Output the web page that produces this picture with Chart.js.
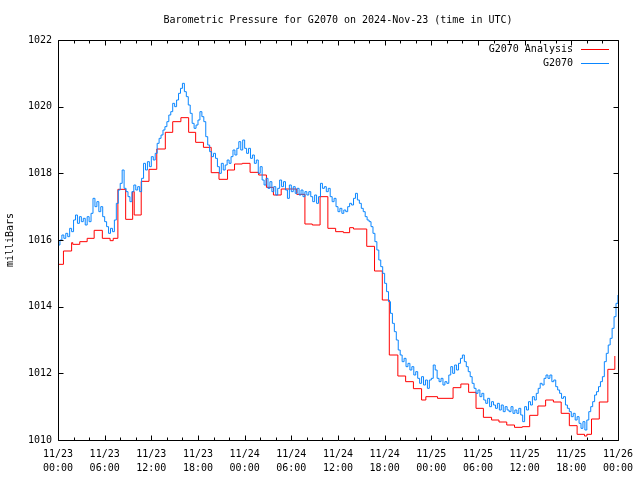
<!DOCTYPE html>
<html>
<head>
<meta charset="utf-8">
<script src="https://cdn.jsdelivr.net/npm/chart.js@4.4.1/dist/chart.umd.min.js"></script>
<style>
  html, body { margin: 0; padding: 0; background: #fff; }
  canvas { display: block; }
</style>
</head>
<body>
<canvas id="pressureChart" width="640" height="480"></canvas>
<script>
const chartTitle = "Barometric Pressure for G2070 on 2024-Nov-23 (time in UTC)";
const yTitle = "milliBars";
const seriesNames = ["G2070 Analysis", "G2070"];
const seriesColors = ["#ff0000", "#0a86ff"];

// x tick labels, one per 6 hours (hours since 11/23 00:00 UTC)
const labelHours = [0, 6, 12, 18, 24, 30, 36, 42, 48, 54, 60, 66, 72];
const labelDays = ["11/23", "11/23", "11/23", "11/23", "11/24", "11/24", "11/24", "11/24", "11/25", "11/25", "11/25", "11/25", "11/26"];
const labelTimes = ["00:00", "06:00", "12:00", "18:00", "00:00", "06:00", "12:00", "18:00", "00:00", "06:00", "12:00", "18:00", "00:00"];

// G2070 Analysis (hourly steps), hours and mBar
const analysisHours = [0, 0.7, 1.75, 1.9, 2.8, 3.75, 4.65, 5.7, 6.7, 7.1, 7.7, 8.7, 9.6, 9.8, 10.7, 11.7,
  12.7, 13.8, 14.75, 15.8, 16.8, 17.7, 18.7, 19.7, 20.7, 21.8, 22.7, 23.7,
  24.7, 25.8, 26.8, 27.7, 28.7, 29.7, 30.7, 31.75, 32.7, 33.7, 34.7, 35.7,
  36.7, 37.5, 38.0, 39.7, 40.7, 41.7, 42.6, 43.7, 44.7, 45.7, 46.75, 47.3,
  48.8, 50.8, 51.8, 52.8, 53.75, 54.7, 55.75, 56.7, 57.7, 58.7, 59.7,
  60.65, 61.7, 62.7, 63.7, 64.7, 65.75, 66.75, 67.7, 68.0, 68.6, 69.6, 70.7, 71.6];
const analysisValues = [1015.27, 1015.67, 1015.92, 1015.87, 1015.95, 1016.05, 1016.29, 1016.05, 1015.98, 1016.05, 1017.52, 1016.62, 1017.45, 1016.75, 1017.76, 1018.12,
  1018.73, 1019.23, 1019.55, 1019.67, 1019.23, 1018.93, 1018.78, 1018.02, 1017.82, 1018.1, 1018.28, 1018.3,
  1018.03, 1017.95, 1017.58, 1017.35, 1017.53, 1017.53, 1017.37, 1016.48, 1016.45, 1017.3, 1016.35, 1016.25,
  1016.22, 1016.37, 1016.33, 1015.81, 1015.07, 1014.2, 1012.55, 1011.92, 1011.75, 1011.54, 1011.2, 1011.3,
  1011.25, 1011.57, 1011.68, 1011.43, 1010.95, 1010.68, 1010.6, 1010.54, 1010.45, 1010.38, 1010.4,
  1010.74, 1011.02, 1011.2, 1011.14, 1010.8, 1010.43, 1010.17, 1010.12, 1010.17, 1010.63, 1011.14, 1012.12, 1012.52];

// G2070 station readings, every 15 minutes from 11/23 00:00
const stationStepHours = 0.25;
const stationValues = [
  1015.85, 1016.0, 1016.15, 1016.05, 1016.2, 1016.1, 1016.35, 1016.25, 1016.6, 1016.75, 1016.5, 1016.7,
  1016.55, 1016.65, 1016.45, 1016.7, 1016.55, 1016.8, 1017.25, 1017.0, 1017.15, 1016.85, 1017.0, 1016.7,
  1016.55, 1016.4, 1016.2, 1016.35, 1016.25, 1016.6, 1017.1, 1017.5, 1017.7, 1018.1, 1017.55, 1017.45,
  1017.3, 1017.15, 1017.45, 1017.65, 1017.5, 1017.6, 1017.45, 1017.85, 1018.3, 1018.1, 1018.35, 1018.2,
  1018.5, 1018.4, 1018.6, 1018.9, 1019.05, 1019.15, 1019.3, 1019.4, 1019.55, 1019.75, 1019.85, 1020.1,
  1020.0, 1020.2, 1020.4, 1020.55, 1020.7, 1020.45, 1020.3, 1020.05, 1019.8, 1019.5, 1019.35, 1019.45,
  1019.6, 1019.85, 1019.7, 1019.55, 1019.1, 1018.85, 1018.65, 1018.5, 1018.6, 1018.45, 1018.2, 1018.0,
  1018.3, 1018.1, 1018.25, 1018.4, 1018.3, 1018.5, 1018.7, 1018.55, 1018.75, 1018.95, 1018.7, 1019.0,
  1018.75, 1018.6, 1018.75, 1018.45, 1018.55, 1018.3, 1018.4, 1018.0, 1018.2, 1017.8, 1017.65, 1017.85,
  1017.55, 1017.75, 1017.45, 1017.6, 1017.35, 1017.55, 1017.8, 1017.6, 1017.75, 1017.5, 1017.25, 1017.65,
  1017.45, 1017.6, 1017.4, 1017.55, 1017.35, 1017.5, 1017.3, 1017.45, 1017.35, 1017.45, 1017.3, 1017.15,
  1017.35, 1017.1, 1017.3, 1017.7, 1017.55, 1017.6, 1017.45, 1017.55, 1017.3, 1017.15, 1017.25, 1017.0,
  1016.85, 1016.95, 1016.8, 1016.9, 1016.85, 1017.0, 1017.1, 1017.05, 1017.25, 1017.4, 1017.2, 1017.1,
  1016.95, 1016.85, 1016.7, 1016.6, 1016.55, 1016.4, 1016.2, 1015.95, 1015.7, 1015.4, 1015.2, 1015.0,
  1014.7, 1014.45, 1014.15, 1013.8, 1013.5, 1013.25, 1013.0, 1012.7, 1012.55, 1012.35, 1012.45, 1012.2,
  1012.3, 1012.1, 1012.2, 1011.95, 1012.05, 1011.85, 1011.7, 1011.9, 1011.65, 1011.8, 1011.55, 1011.8,
  1011.85, 1012.25, 1012.1, 1011.85, 1011.75, 1011.85, 1011.65, 1011.75, 1011.7, 1011.95, 1012.2, 1012.0,
  1012.25, 1012.1, 1012.3, 1012.45, 1012.55, 1012.35, 1012.2, 1012.05, 1011.9, 1011.7, 1011.55, 1011.4,
  1011.5, 1011.3, 1011.4, 1011.2, 1011.1, 1011.25, 1011.0, 1011.15, 1011.05, 1010.95, 1011.1, 1010.9,
  1011.05, 1010.85, 1011.0, 1010.9, 1010.85, 1011.0, 1010.8, 1010.9, 1010.8, 1010.95, 1010.75, 1010.55,
  1011.0, 1010.9, 1011.15, 1011.05, 1011.3, 1011.2, 1011.4, 1011.55, 1011.7, 1011.65, 1011.85, 1011.95,
  1011.85, 1011.95, 1011.75, 1011.8, 1011.6, 1011.5, 1011.4, 1011.25, 1011.3, 1011.05, 1010.95, 1010.85,
  1010.7, 1010.8, 1010.6, 1010.7, 1010.5, 1010.35, 1010.55, 1010.3, 1010.6, 1010.85, 1011.0, 1011.15,
  1011.35, 1011.45, 1011.6, 1011.75, 1011.9, 1012.35, 1012.6, 1012.85, 1013.05, 1013.35, 1013.7, 1014.1,
  1014.35
];

const analysisPoints = analysisHours.map((h, i) => ({ x: h, y: analysisValues[i] }));
const stationPoints = stationValues.map((v, i) => ({ x: i * stationStepHours, y: v }));

const px = v => Math.round(v) + 0.5;

// gnuplot style frame, inward ticks, title and key
const gnuplotFrame = {
  id: "gnuplotFrame",
  afterDatasetsDraw(chart) {
    const { ctx, chartArea: a, scales } = chart;
    const L = px(a.left), R = px(a.right), T = px(a.top), B = px(a.bottom);
    ctx.save();
    ctx.lineWidth = 1;
    ctx.strokeStyle = "#000000";
    ctx.beginPath();
    scales.x.ticks.forEach(t => {
      const xp = px(scales.x.getPixelForValue(t.value));
      const len = labelHours.includes(t.value) ? 5 : 3;
      ctx.moveTo(xp, B); ctx.lineTo(xp, B - len);
      ctx.moveTo(xp, T); ctx.lineTo(xp, T + len);
    });
    scales.y.ticks.forEach(t => {
      const yp = px(scales.y.getPixelForValue(t.value));
      ctx.moveTo(L, yp); ctx.lineTo(L + 5, yp);
      ctx.moveTo(R, yp); ctx.lineTo(R - 5, yp);
    });
    ctx.rect(L, T, R - L, B - T);
    ctx.stroke();

    ctx.fillStyle = "#000000";
    ctx.font = "10px 'DejaVu Sans Mono'";
    ctx.textBaseline = "middle";
    ctx.textAlign = "center";
    ctx.fillText(chartTitle, (a.left + a.right) / 2, 20);

    ctx.textAlign = "right";
    for (let i = 0; i < seriesNames.length; i++) {
      const ly = 49 + i * 14;
      ctx.fillText(seriesNames[i], 573, ly);
      ctx.beginPath();
      ctx.strokeStyle = seriesColors[i];
      ctx.moveTo(581, px(ly));
      ctx.lineTo(609, px(ly));
      ctx.stroke();
    }
    ctx.restore();
  }
};

Chart.defaults.font.family = "'DejaVu Sans Mono'";
Chart.defaults.font.size = 10;
Chart.defaults.color = "#000";

const ctx = document.getElementById("pressureChart").getContext("2d");
new Chart(ctx, {
  type: "line",
  data: {
    datasets: [
      {
        label: seriesNames[0],
        data: analysisPoints,
        borderColor: seriesColors[0],
        borderWidth: 1,
        pointRadius: 0,
        stepped: true,
        order: 1
      },
      {
        label: seriesNames[1],
        data: stationPoints,
        borderColor: seriesColors[1],
        borderWidth: 1,
        pointRadius: 0,
        stepped: true,
        order: 0
      }
    ]
  },
  options: {
    responsive: false,
    animation: false,
    layout: { padding: { top: 40, right: 19, left: 0, bottom: 0 } },
    plugins: {
      legend: { display: false },
      title: { display: false },
      tooltip: { enabled: false }
    },
    scales: {
      x: {
        type: "linear",
        min: 0,
        max: 72,
        grid: { display: false, drawTicks: false },
        border: { display: false },
        ticks: {
          stepSize: 2,
          autoSkip: false,
          maxRotation: 0,
          padding: 7,
          font: { size: 10, lineHeight: 1.4 },
          callback: v => {
            const k = labelHours.indexOf(v);
            return k < 0 ? "" : [labelDays[k], labelTimes[k]];
          }
        },
        afterFit: s => { s.height = 40; }
      },
      y: {
        min: 1010,
        max: 1022,
        grid: { display: false, drawTicks: false },
        border: { display: false },
        ticks: { stepSize: 2, padding: 6, callback: v => String(v) },
        title: { display: true, text: yTitle, font: { size: 10 }, padding: { top: 4, bottom: 4 } },
        afterFit: s => { s.width = 58; }
      }
    }
  },
  plugins: [gnuplotFrame]
});
</script>
</body>
</html>
